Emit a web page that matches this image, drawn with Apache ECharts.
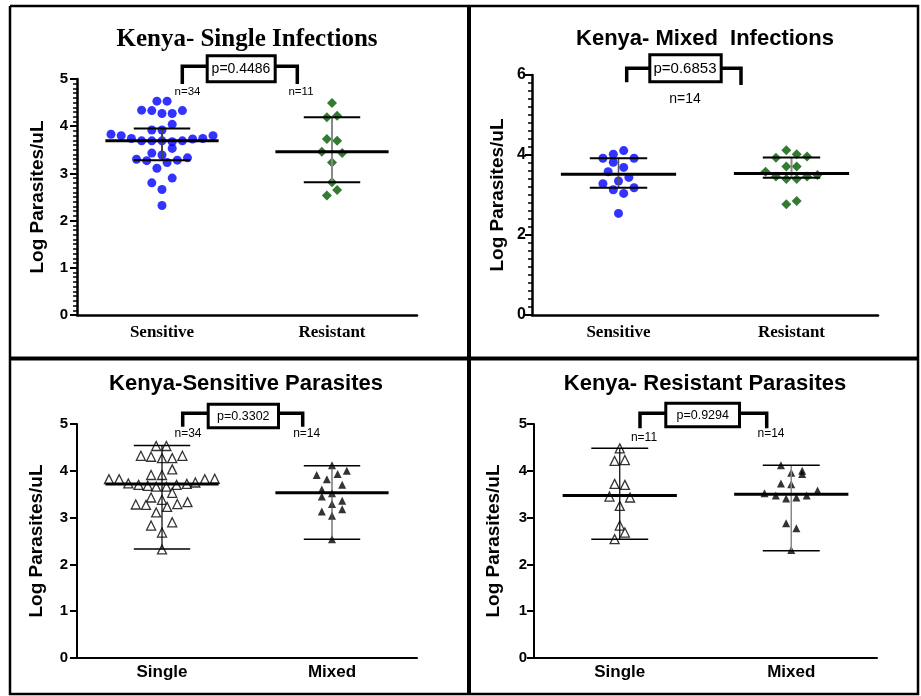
<!DOCTYPE html>
<html><head><meta charset="utf-8">
<script src="https://cdn.jsdelivr.net/npm/echarts@6/dist/echarts.min.js"></script>
<style>html,body{margin:0;padding:0;background:#fff}#c{width:921px;height:696px}</style>
</head><body><div id="c"></div>
<script>
// ---------------- data ----------------
const topCategories = ['Sensitive', 'Resistant'];
const bottomCategories = ['Single', 'Mixed'];
const yTicksTop1 = [0, 1, 2, 3, 4, 5];
const yTicksTop2 = [0, 2, 4, 6];
const yTicksBottom = [0, 1, 2, 3, 4, 5];

// [jitter slot, log parasites/uL]
const singleSensitive = [
  [-0.5,4.53],[0.5,4.53],
  [-2,4.34],[-1,4.33],[0,4.27],[1,4.27],[2,4.33],
  [1,4.04],
  [-1,3.92],[0,3.92],
  [-5,3.83],[-4,3.80],[-3,3.74],[-2,3.69],[-1,3.69],[0,3.69],[1,3.67],[2,3.69],[3,3.73],[4,3.74],[5,3.80],
  [1,3.53],[-1,3.43],[0,3.39],
  [-2.5,3.30],[-1.5,3.27],[0.5,3.23],[1.5,3.28],[2.5,3.33],
  [-0.5,3.11],
  [-1,2.80],[1,2.90],
  [0,2.66],
  [0,2.32]
];
const singleResistant = [
  [0,4.49],[-0.5,4.19],[0.5,4.22],[-0.5,3.73],[0.5,3.69],[-1,3.46],[1,3.43],[0,3.23],[0,2.81],[-0.5,2.53],[0.5,2.65]
];
const mixedSensitive = [
  [0.5,4.11],[-1.5,3.92],[-0.5,4.02],[1.5,3.92],[-0.5,3.82],[0.5,3.69],[-1,3.58],[1,3.44],[0,3.35],[-1.5,3.28],[1.5,3.18],[-0.5,3.13],[0.5,3.04],[0,2.54]
];
const mixedResistant = [
  [-0.5,4.12],[-1.5,3.93],[0.5,4.02],[1.5,3.96],[-0.5,3.71],[0.5,3.71],[-2.5,3.58],[-1.5,3.46],[-0.5,3.40],[0.5,3.40],[1.5,3.46],[2.5,3.50],[-0.5,2.77],[0.5,2.85]
];
const sensitiveSingle = [
  [-0.57,4.53],[0.43,4.53],
  [-2.07,4.32],[-1.07,4.30],[0,4.27],[1,4.27],[2,4.32],
  [1,4.03],
  [-1.07,3.91],[0,3.91],
  [-5.2,3.82],[-4.2,3.82],[-3.3,3.73],[-2.3,3.70],[-1.4,3.68],[-0.57,3.66],[0.43,3.66],[1.43,3.70],[2.43,3.72],[3.27,3.75],[4.2,3.82],[5.17,3.83],
  [1,3.53],[-1.07,3.43],[0,3.38],
  [-2.57,3.28],[-1.57,3.27],[0.5,3.23],[1.5,3.29],[2.5,3.33],
  [-0.57,3.11],
  [-1.07,2.83],[1,2.90],
  [0,2.68],
  [0,2.32]
];
const sensitiveMixed = [
  [0,4.12],[1.45,4.00],[-1.5,3.91],[0.55,3.93],[-0.5,3.82],[1,3.70],[-1,3.60],[0,3.52],[-1,3.45],[1,3.36],[0,3.29],[1,3.18],[-1,3.13],[0,3.04],[0,2.54]
];
const resistantSingle = [
  [0,4.48],[-0.5,4.21],[0.5,4.23],[-0.5,3.72],[0.5,3.70],[-1,3.45],[1,3.43],[0,3.25],[0,2.83],[0.5,2.68],[-0.5,2.54]
];
const resistantMixed = [
  [-1,4.12],[0,3.96],[1.06,4.00],[1.06,3.93],[-1,3.73],[0,3.71],[-2.6,3.52],[-1.5,3.47],[-0.5,3.41],[0.5,3.43],[1.5,3.47],[2.56,3.58],[-0.5,2.88],[0.5,2.77],[0,2.31]
];
// [group index, median/centre line, upper bar, lower bar]
const statsSingleInf = [[0,3.69,3.95,3.28],[1,3.46,4.19,2.81]];
const statsMixedInf = [[0,3.52,3.92,3.18],[1,3.54,3.94,3.43]];
const statsSensitive = [[0,3.72,4.54,2.33],[1,3.53,4.11,2.54]];
const statsResistant = [[0,3.47,4.48,2.54],[1,3.50,4.12,2.29]];

const titles = ['Kenya- Single Infections','Kenya- Mixed  Infections','Kenya-Sensitive Parasites','Kenya- Resistant Parasites'];
const pValues = ['p=0.4486','p=0.6853','p=0.3302','p=0.9294'];
const nLabels = [['n=34','n=11'],['n=14'],['n=34','n=14'],['n=11','n=14']];
const yName = 'Log Parasites/uL';

// ---------------- layout / style ----------------
const SLOT = 0.06, MED_HALF = 0.333, WH_HALF = 0.166;
const SANS = 'Liberation Sans', SERIF = 'Liberation Serif';
const grids = [
  {left:77, top:79, width:340, height:236},
  {left:532, top:75, width:346, height:240},
  {left:77, top:424, width:340, height:234},
  {left:534, top:424, width:343, height:234}
];
const panelStyle = [
  {axisW:2.5, med:3, wh:2, conn:['#444','#888'], connW:[2,2], yFs:15, yMargin:9, nameGap:30, xFont:SERIF, xMargin:9},
  {axisW:2.5, med:3, wh:2, conn:['#555','#888'], connW:[1.5,2], yFs:16, yMargin:6, nameGap:25, xFont:SERIF, xMargin:9},
  {axisW:2, med:3, wh:1.5, conn:['#000','#555'], connW:[1.2,1.2], yFs:15, yMargin:9, nameGap:31, xFont:SANS, xMargin:6},
  {axisW:2, med:3, wh:1.5, conn:['#000','#888'], connW:[1.2,1.5], yFs:15, yMargin:7, nameGap:31, xFont:SANS, xMargin:6}
];

const xAxes = [], yAxes = [], series = [];
const cats = [topCategories, topCategories, bottomCategories, bottomCategories];
const yTickSets = [yTicksTop1, yTicksTop2, yTicksBottom, yTicksBottom];
grids.forEach((g, i) => {
  const st = panelStyle[i];
  const ticks = yTickSets[i];
  xAxes.push({
    type:'category', gridIndex:i, data:cats[i], boundaryGap:true,
    axisLine:{lineStyle:{color:'#000', width:st.axisW}},
    axisTick:{alignWithLabel:true, length:5, lineStyle:{color:'#000', width:2}},
    axisLabel:{color:'#000', fontFamily:st.xFont, fontWeight:'bold', fontSize:17, margin:st.xMargin},
    splitLine:{show:false}
  });
  xAxes.push({type:'value', gridIndex:i, min:0, max:2, show:false});
  yAxes.push({
    type:'value', gridIndex:i, min:ticks[0], max:ticks[ticks.length-1], interval:ticks[1]-ticks[0],
    name:yName, nameLocation:'middle', nameGap:st.nameGap, nameRotate:90,
    nameTextStyle:{color:'#000', fontFamily:SANS, fontWeight:'bold', fontSize:19},
    axisLine:{show:true, lineStyle:{color:'#000', width:st.axisW}},
    axisTick:{show:true, length:7, lineStyle:{color:'#000', width:2}},
    minorTick:{show:i<2, splitNumber:10, length:4, lineStyle:{color:'#000', width:1.5}},
    axisLabel:{color:'#000', fontFamily:SANS, fontWeight:'bold', fontSize:st.yFs, margin:st.yMargin},
    splitLine:{show:false}
  });
});

function pts(arr, g) { return arr.map(d => [g + 0.5 + d[0]*SLOT, d[1]]); }
function scatter(i, arr, g, symbol, size, itemStyle) {
  series.push({type:'scatter', xAxisIndex:2*i+1, yAxisIndex:i, data:pts(arr, g), symbol, symbolSize:size, itemStyle, z:2, silent:true});
}
const blue = {color:'#0000ff'};
const green = {color:'#005a00'};
const openTri = {color:'#fff', borderColor:'#000', borderWidth:1.3};
const fillTri = {color:'#000'};
scatter(0, singleSensitive, 0, 'circle', 9, blue);
scatter(0, singleResistant, 1, 'diamond', 10, green);
scatter(1, mixedSensitive, 0, 'circle', 9, blue);
scatter(1, mixedResistant, 1, 'diamond', 10, green);
scatter(2, sensitiveSingle, 0, 'triangle', 9, openTri);
scatter(2, sensitiveMixed, 1, 'triangle', 8, fillTri);
scatter(3, resistantSingle, 0, 'triangle', 9, openTri);
scatter(3, resistantMixed, 1, 'triangle', 8, fillTri);

function statsSeries(i, stats) {
  const st = panelStyle[i];
  series.push({
    type:'custom', xAxisIndex:2*i+1, yAxisIndex:i, data:stats, z:3, silent:true,
    encode:{x:0, y:1},
    renderItem:(params, api) => {
      const g = api.value(0), c = g + 0.5;
      const med = api.value(1), up = api.value(2), lo = api.value(3);
      const line = (a, b, color, w) => ({type:'line', shape:{x1:a[0], y1:a[1], x2:b[0], y2:b[1]}, style:{stroke:color, lineWidth:w}});
      return {type:'group', children:[
        line(api.coord([c, up]), api.coord([c, lo]), st.conn[g], st.connW[g]),
        line(api.coord([c-WH_HALF, up]), api.coord([c+WH_HALF, up]), '#000', st.wh),
        line(api.coord([c-WH_HALF, lo]), api.coord([c+WH_HALF, lo]), '#000', st.wh),
        line(api.coord([c-MED_HALF, med]), api.coord([c+MED_HALF, med]), '#000', st.med)
      ]};
    }
  });
}
statsSeries(0, statsSingleInf);
statsSeries(1, statsMixedInf);
statsSeries(2, statsSensitive);
statsSeries(3, statsResistant);

// ---------------- annotations ----------------
const graphic = [];
function txt(x, y, text, font) {
  graphic.push({type:'text', x, y, silent:true, style:{text, font, fill:'#000', align:'center', verticalAlign:'middle'}, z:10});
}
function poly(points, w) {
  graphic.push({type:'polyline', silent:true, shape:{points}, style:{stroke:'#000', lineWidth:w, fill:null}, z:10});
}
function box(x1, y1, x2, y2) {
  graphic.push({type:'rect', silent:true, shape:{x:x1, y:y1, width:x2-x1, height:y2-y1}, style:{stroke:'#000', lineWidth:3, fill:'#fff'}, z:10});
}
// frame
poly([[10,6],[918,6],[918,694],[10,694],[10,6]], 2.5);
poly([[469,6],[469,694]], 4);
poly([[10,358.5],[918,358.5]], 4);
// titles
txt(247, 40, titles[0], 'bold 25px "' + SERIF + '"');
txt(705, 38.5, titles[1], 'bold 22px "' + SANS + '"');
txt(246, 384, titles[2], 'bold 22px "' + SANS + '"');
txt(705, 384, titles[3], 'bold 22px "' + SANS + '"');
// brackets + p boxes
poly([[182.3,84],[182.3,66.3],[207,66.3]], 3.5); poly([[275,66.3],[297.3,66.3],[297.3,84]], 3.5);
box(207.2, 55.8, 275.2, 81.8); txt(241, 69.5, pValues[0], '14px "' + SANS + '"');
poly([[626.7,82.3],[626.7,68.3],[650,68.3]], 3.5); poly([[721,68.3],[741,68.3],[741,85]], 3.5);
box(649.8, 54.8, 721.2, 81.8); txt(685, 68.8, pValues[1], '15px "' + SANS + '"');
poly([[182.7,426.7],[182.7,413.3],[208,413.3]], 3.5); poly([[278.5,413.3],[302.7,413.3],[302.7,426.7]], 3.5);
box(208.2, 404.2, 278.5, 427.8); txt(243.3, 416.3, pValues[2], '12.5px "' + SANS + '"');
poly([[640,428.3],[640,413.3],[666,413.3]], 3.5); poly([[739.5,413.3],[766.7,413.3],[766.7,428.3]], 3.5);
box(665.8, 403.2, 739.5, 426.8); txt(702.7, 415.3, pValues[3], '12.5px "' + SANS + '"');
// n labels
txt(187.5, 92, nLabels[0][0], '11.5px "' + SANS + '"');
txt(301, 92, nLabels[0][1], '11.5px "' + SANS + '"');
txt(685, 99, nLabels[1][0], '14px "' + SANS + '"');
txt(188, 434, nLabels[2][0], '12px "' + SANS + '"');
txt(306.7, 434, nLabels[2][1], '12px "' + SANS + '"');
txt(644, 438, nLabels[3][0], '12px "' + SANS + '"');
txt(771, 434, nLabels[3][1], '12px "' + SANS + '"');

const chart = echarts.init(document.getElementById('c'), null, {renderer:'canvas'});
chart.setOption({
  animation:false, backgroundColor:'#fff',
  grid:grids.map(g => Object.assign({containLabel:false}, g)),
  xAxis:xAxes, yAxis:yAxes, series, graphic
});
</script></body></html>
